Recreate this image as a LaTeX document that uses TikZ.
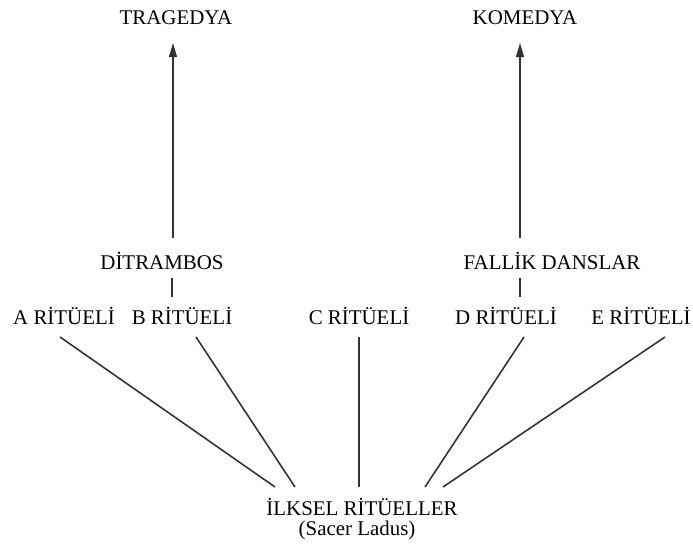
\documentclass[tikz,border=0pt]{standalone}
\usepackage{fontspec}
\setmainfont{Liberation Serif}
\usepackage{tikz}
\usetikzlibrary{arrows.meta,positioning,calc}

\begin{document}
\begin{tikzpicture}[
  x=0.02cm, y=-0.02cm,
  >={Triangle[length=8pt,width=4.5pt]},
  lbl/.style={inner sep=0pt, anchor=base, font=\fontsize{11.9}{14}\selectfont},
  link/.style={draw=black!80, line width=0.9pt}]
  \useasboundingbox (0,0) rectangle (693,550);
  % top level
  \node[lbl] (trag) at (176,25) {TRAGEDYA};
  \node[lbl] (kom) at (525,25) {KOMEDYA};
  \node[lbl] (dit) at (162,270) {DİTRAMBOS};
  \node[lbl] (fal) at (552,270) {FALLİK DANSLAR};
  % rituals
  \node[lbl] (ra) at (64,325) {A RİTÜELİ};
  \node[lbl] (rb) at (182,325) {B RİTÜELİ};
  \node[lbl] (rc) at (359,325) {C RİTÜELİ};
  \node[lbl] (rd) at (506,325) {D RİTÜELİ};
  \node[lbl] (re) at (641,325) {E RİTÜELİ};
  \node[lbl] (prim) at (362,515) {İLKSEL RİTÜELLER};
  \node[lbl] (sacer) at (357,535) {(Sacer Ladus)};
  % arrows
  \draw[link,->] ($(dit.base)+(11,-32)$) -- ($(trag.base)+(-3,18)$);
  \draw[link,->] ($(fal.base)+(-32,-32)$) -- ($(kom.base)+(-5,18)$);
  \draw[link] ($(dit.base)+(10,8)$) -- ($(rb.base)+(-10,-28)$);
  \draw[link] ($(fal.base)+(-32,8)$) -- ($(rd.base)+(14,-28)$);
  \foreach \r/\a/\b in {ra/-4/-87, rb/14/-67, rc/0/-3, rd/18/63, re/24/81}
    \draw[link] ($(\r.base)+(\a,12)$) -- ($(prim.base)+(\b,-28)$);
\end{tikzpicture}
\end{document}
